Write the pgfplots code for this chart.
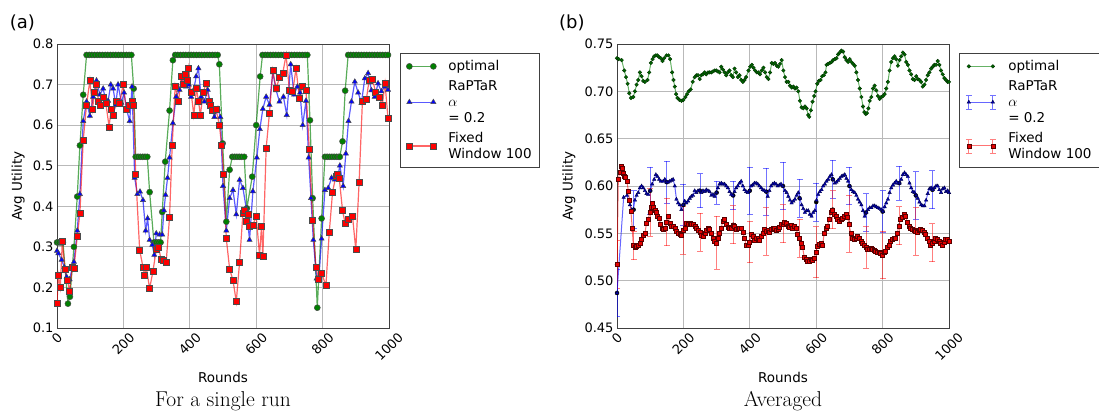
\documentclass[border=0pt]{standalone}
\usepackage{fontspec}
\setmainfont{DejaVu Sans}
\newfontfamily\lmr{Latin Modern Roman}
\usepackage{graphicx}
\usepackage{pgfplots}
\pgfplotsset{compat=1.18}
\definecolor{mgreen}{rgb}{0,0.5,0}
\definecolor{edgec}{gray}{0.3}

\pgfplotstableread{
x y e
0 0.487 0.025
50 0.575 0.020
100 0.595 0.025
150 0.604 0.022
200 0.580 0.022
250 0.595 0.018
300 0.593 0.012
350 0.590 0.015
400 0.595 0.025
450 0.594 0.025
500 0.600 0.025
550 0.587 0.020
600 0.583 0.020
650 0.607 0.020
700 0.600 0.020
750 0.572 0.020
800 0.573 0.022
850 0.603 0.018
900 0.590 0.025
950 0.596 0.020
}\blueerr

\pgfplotstableread{
x y e
0 0.517 0.025
50 0.537 0.015
100 0.572 0.025
150 0.562 0.025
200 0.553 0.025
250 0.551 0.020
300 0.540 0.028
350 0.559 0.020
400 0.541 0.022
450 0.552 0.025
500 0.560 0.020
550 0.545 0.020
600 0.530 0.027
650 0.575 0.020
700 0.560 0.030
750 0.535 0.022
800 0.527 0.025
850 0.558 0.020
900 0.552 0.025
950 0.540 0.020
}\rederr

\pgfplotsset{
  mystyle/.style={
    scale only axis, width=332pt, height=284pt, anchor=south west,
    xmin=0, xmax=1000, enlargelimits=false,
    xtick={0,200,400,600,800,1000},
    xticklabels={\rotatebox{45}{0},\rotatebox{45}{200},\rotatebox{45}{400},\rotatebox{45}{600},\rotatebox{45}{800},\rotatebox{45}{1000}},
    xticklabel style={anchor=north, font=\fontsize{13}{15}\selectfont},
    yticklabel style={font=\fontsize{13}{15}\selectfont},
    grid=major, grid style={gray!55, line width=0.8pt},
    major tick length=0pt,
    axis line style={gray!50!black, line width=1pt},
    xlabel={Rounds}, ylabel={Avg Utility},
    every axis x label/.style={at={(axis description cs:0.5,-0.173)}, anchor=center, font=\fontsize{13.5}{16}\selectfont},
    legend cell align=left,
    legend style={anchor=north west, draw=gray!50!black, line width=0.8pt,
      font=\fontsize{13.5}{16.2}\selectfont, inner xsep=6pt, inner ysep=5pt,
      row sep=4pt, nodes={align=left},
      /tikz/every odd column/.append style={column sep=10pt}},
    legend image code/.code={\draw[##1] plot coordinates {(0pt,0pt) (24pt,0pt)};},
    /pgf/number format/assume math mode=true,
  },
  errlegblue/.style={legend image code/.code={
    \draw[blue, draw opacity=0.55, line width=0.9pt] (0pt,-7pt)--(0pt,7pt) (-3pt,7pt)--(3pt,7pt) (-3pt,-7pt)--(3pt,-7pt) (24pt,-7pt)--(24pt,7pt) (21pt,7pt)--(27pt,7pt) (21pt,-7pt)--(27pt,-7pt);
    \draw[##1] plot coordinates {(0pt,0pt) (24pt,0pt)};}},
  errlegred/.style={legend image code/.code={
    \draw[red, draw opacity=0.5, line width=0.9pt] (0pt,-7pt)--(0pt,7pt) (-3pt,7pt)--(3pt,7pt) (-3pt,-7pt)--(3pt,-7pt) (24pt,-7pt)--(24pt,7pt) (21pt,7pt)--(27pt,7pt) (21pt,-7pt)--(27pt,-7pt);
    \draw[##1] plot coordinates {(0pt,0pt) (24pt,0pt)};}},
}

\begin{document}
\begin{tikzpicture}
\useasboundingbox (0,0) rectangle (1099pt,413pt);
% ---------------- left panel ----------------
\begin{axis}[mystyle, at={(57pt,85pt)},
  ymin=0.1, ymax=0.8, ytick={0.1,0.2,...,0.8},
  yticklabel style={/pgf/number format/.cd, fixed, fixed zerofill, precision=1},
  every axis y label/.style={at={(axis description cs:-0.117,0.5)}, rotate=90, anchor=center, font=\fontsize{13.5}{16}\selectfont},
  legend style={at={(axis description cs:1.033,0.968)}},
  after end axis/.code={
    \node[font=\fontsize{18}{20}\selectfont] at (axis description cs:-0.104,1.074) {(a)};
    \node[font=\lmr\fontsize{21.5}{24}\selectfont, anchor=base] at (axis description cs:0.5,-0.277) {For a single run};
  }]
\addplot[mgreen, draw opacity=0.65, line width=1.2pt, mark=*, mark size=3pt,
  mark options={fill=mgreen, draw=edgec, line width=0.5pt, draw opacity=1}]
coordinates {(0,0.311)(6,0.311)(12,0.311)(18,0.311)(33,0.16)(39,0.177)(51,0.30)(61,0.424)(69,0.55)(79,0.675)(89,0.773)(97,0.773)(105,0.773)(113,0.773)(121,0.773)(129,0.773)(137,0.773)(145,0.773)(153,0.773)(161,0.773)(169,0.773)(177,0.773)(185,0.773)(193,0.773)(201,0.773)(209,0.773)(217,0.773)(224,0.773)(231,0.69)(237,0.522)(244,0.522)(251,0.522)(258,0.522)(265,0.522)(272,0.522)(279,0.435)(292,0.311)(299,0.311)(306,0.311)(312,0.311)(317,0.386)(326,0.51)(339,0.636)(349,0.76)(356,0.773)(364,0.773)(372,0.773)(380,0.773)(388,0.773)(396,0.773)(404,0.773)(412,0.773)(420,0.773)(428,0.773)(436,0.773)(444,0.773)(452,0.773)(460,0.773)(468,0.773)(476,0.773)(484,0.773)(489,0.75)(499,0.555)(510,0.362)(520,0.49)(528,0.522)(535,0.522)(542,0.522)(549,0.522)(556,0.522)(564,0.522)(572,0.395)(588,0.473)(600,0.60)(612,0.72)(619,0.773)(627,0.773)(635,0.773)(643,0.773)(651,0.773)(659,0.773)(667,0.773)(675,0.773)(683,0.773)(691,0.773)(699,0.773)(707,0.773)(715,0.773)(723,0.773)(731,0.773)(739,0.773)(747,0.773)(754,0.773)(762,0.612)(770,0.42)(784,0.15)(797,0.37)(807,0.522)(814,0.522)(821,0.522)(828,0.522)(835,0.522)(842,0.522)(849,0.522)(852,0.522)(860,0.56)(868,0.685)(877,0.773)(885,0.773)(893,0.773)(901,0.773)(909,0.773)(917,0.773)(925,0.773)(933,0.773)(941,0.773)(949,0.773)(957,0.773)(965,0.773)(973,0.773)(981,0.773)(989,0.773)(997,0.773)};
\addlegendentry{optimal}
\addplot[blue, draw opacity=0.65, line width=1.2pt, mark=triangle*, mark size=3pt,
  mark options={fill=blue, draw=edgec, line width=0.5pt, draw opacity=1}]
coordinates {(0,0.29)(4,0.284)(14,0.268)(22,0.25)(29,0.226)(38,0.22)(45,0.245)(51,0.263)(61,0.34)(69,0.43)(79,0.61)(89,0.658)(99,0.623)(109,0.67)(119,0.71)(129,0.675)(139,0.69)(147,0.66)(154,0.66)(162,0.70)(169,0.69)(177,0.65)(184,0.70)(194,0.655)(202,0.68)(209,0.64)(219,0.61)(226,0.695)(234,0.47)(242,0.43)(250,0.436)(259,0.415)(267,0.34)(273,0.37)(279,0.317)(287,0.305)(293,0.28)(299,0.333)(309,0.33)(317,0.33)(322,0.39)(327,0.428)(333,0.47)(339,0.52)(349,0.605)(359,0.67)(369,0.687)(379,0.72)(389,0.695)(397,0.70)(404,0.67)(412,0.687)(419,0.72)(426,0.74)(434,0.67)(444,0.658)(454,0.687)(464,0.646)(474,0.62)(485,0.64)(492,0.62)(500,0.45)(510,0.34)(520,0.42)(530,0.44)(540,0.38)(550,0.465)(560,0.445)(570,0.395)(580,0.317)(590,0.437)(602,0.52)(611,0.59)(620,0.64)(630,0.67)(640,0.65)(650,0.73)(660,0.686)(670,0.658)(682,0.67)(692,0.625)(704,0.75)(714,0.675)(724,0.695)(732,0.68)(740,0.6)(750,0.66)(758,0.52)(765,0.42)(772,0.317)(782,0.222)(789,0.226)(797,0.32)(807,0.44)(817,0.445)(827,0.47)(837,0.466)(845,0.47)(852,0.5)(862,0.45)(870,0.53)(878,0.61)(887,0.658)(897,0.707)(907,0.68)(917,0.655)(927,0.715)(937,0.728)(947,0.686)(957,0.67)(967,0.703)(977,0.683)(987,0.695)(997,0.687)};
\addlegendentry{RaPTaR\\$\alpha$\\= 0.2}
\addplot[red, draw opacity=0.6, line width=1.2pt, mark=square*, mark size=3pt,
  mark options={fill=red, draw=edgec, line width=0.5pt, draw opacity=1}]
coordinates {(0,0.16)(4,0.23)(10,0.20)(16,0.313)(24,0.245)(32,0.218)(38,0.19)(46,0.25)(51,0.247)(61,0.325)(69,0.383)(79,0.563)(89,0.65)(99,0.71)(107,0.64)(113,0.68)(119,0.70)(125,0.66)(131,0.65)(139,0.67)(147,0.654)(157,0.596)(163,0.64)(169,0.625)(179,0.658)(189,0.654)(199,0.70)(209,0.64)(219,0.65)(226,0.66)(231,0.65)(237,0.48)(249,0.292)(259,0.25)(264,0.23)(269,0.25)(279,0.197)(289,0.24)(299,0.293)(306,0.3)(313,0.27)(319,0.268)(329,0.263)(339,0.374)(347,0.55)(356,0.697)(366,0.658)(374,0.72)(380,0.70)(386,0.725)(392,0.71)(396,0.74)(404,0.68)(412,0.625)(420,0.69)(426,0.66)(432,0.625)(440,0.68)(449,0.703)(458,0.66)(463,0.65)(469,0.637)(479,0.64)(489,0.60)(496,0.55)(502,0.48)(510,0.32)(520,0.245)(530,0.218)(540,0.165)(550,0.263)(560,0.383)(565,0.39)(570,0.362)(575,0.38)(580,0.35)(590,0.354)(600,0.376)(610,0.28)(616,0.35)(620,0.276)(630,0.543)(640,0.63)(650,0.735)(660,0.69)(670,0.717)(680,0.728)(690,0.773)(700,0.687)(710,0.683)(720,0.74)(730,0.666)(740,0.695)(750,0.687)(760,0.54)(770,0.365)(780,0.25)(788,0.22)(797,0.235)(810,0.205)(820,0.335)(830,0.435)(840,0.475)(845,0.48)(850,0.47)(860,0.39)(868,0.357)(878,0.367)(890,0.376)(900,0.293)(910,0.46)(920,0.66)(932,0.665)(940,0.71)(950,0.714)(960,0.68)(970,0.67)(980,0.65)(988,0.703)(997,0.617)};
\addlegendentry{Fixed\\Window 100}
\end{axis}

% ---------------- right panel ----------------
\begin{axis}[mystyle, at={(617pt,85pt)},
  ymin=0.45, ymax=0.75, ytick={0.45,0.50,...,0.75},
  yticklabel style={/pgf/number format/.cd, fixed, fixed zerofill, precision=2},
  every axis y label/.style={at={(axis description cs:-0.145,0.5)}, rotate=90, anchor=center, font=\fontsize{13.5}{16}\selectfont},
  legend style={at={(axis description cs:1.030,0.968)}},
  after end axis/.code={
    \node[font=\fontsize{18}{20}\selectfont] at (axis description cs:-0.136,1.074) {(b)};
    \node[font=\lmr\fontsize{21.5}{24}\selectfont, anchor=base] at (axis description cs:0.5,-0.277) {Averaged};
  }]
\addplot[only marks, mark=none, forget plot,
  error bars/.cd, y dir=both, y explicit,
  error bar style={blue, draw opacity=0.55, line width=0.9pt},
  error mark options={rotate=90, blue, draw opacity=0.55, mark size=3pt, line width=0.9pt}]
  table[x=x, y=y, y error=e] {\blueerr};
\addplot[only marks, mark=none, forget plot,
  error bars/.cd, y dir=both, y explicit,
  error bar style={red, draw opacity=0.5, line width=0.9pt},
  error mark options={rotate=90, red, draw opacity=0.5, mark size=3pt, line width=0.9pt}]
  table[x=x, y=y, y error=e] {\rederr};
\addplot[mgreen, draw opacity=0.6, line width=1pt, mark=*, mark size=1.8pt,
  mark options={fill=mgreen!80!black, draw=mgreen!40!black, line width=0.4pt, draw opacity=1}]
coordinates {(0,0.735)(5,0.734)(14,0.733)(22,0.722)(27,0.715)(32,0.708)(37,0.698)(42,0.693)(49,0.694)(54,0.70)(59,0.707)(64,0.712)(69,0.72)(74,0.716)(79,0.711)(84,0.71)(92,0.712)(97,0.72)(102,0.73)(107,0.734)(112,0.737)(117,0.738)(122,0.738)(127,0.736)(132,0.735)(137,0.732)(142,0.735)(149,0.738)(155,0.738)(160,0.734)(166,0.72)(170,0.712)(174,0.705)(178,0.697)(182,0.693)(188,0.691)(194,0.69)(200,0.691)(206,0.694)(211,0.697)(216,0.70)(222,0.702)(228,0.71)(234,0.715)(239,0.717)(244,0.717)(249,0.713)(254,0.717)(259,0.718)(264,0.72)(269,0.718)(274,0.72)(279,0.72)(284,0.72)(289,0.721)(294,0.722)(299,0.722)(304,0.721)(309,0.72)(314,0.726)(319,0.723)(324,0.72)(329,0.717)(334,0.72)(339,0.722)(344,0.717)(349,0.715)(354,0.724)(359,0.72)(364,0.715)(369,0.717)(374,0.712)(379,0.71)(384,0.712)(389,0.715)(396,0.722)(401,0.726)(406,0.728)(411,0.725)(416,0.722)(421,0.72)(426,0.72)(431,0.718)(436,0.722)(441,0.725)(446,0.72)(451,0.715)(456,0.713)(461,0.72)(466,0.73)(471,0.729)(476,0.73)(481,0.727)(486,0.726)(491,0.729)(496,0.733)(501,0.722)(506,0.715)(511,0.71)(516,0.71)(521,0.706)(526,0.704)(531,0.705)(536,0.703)(541,0.704)(546,0.70)(551,0.69)(556,0.683)(561,0.682)(566,0.684)(571,0.682)(576,0.675)(579,0.673)(584,0.68)(589,0.689)(594,0.695)(598,0.70)(603,0.708)(608,0.711)(613,0.712)(618,0.716)(623,0.717)(628,0.72)(631,0.728)(636,0.729)(641,0.73)(646,0.731)(651,0.733)(656,0.734)(661,0.735)(666,0.739)(671,0.741)(676,0.743)(681,0.742)(686,0.736)(691,0.733)(696,0.731)(701,0.734)(706,0.731)(711,0.729)(716,0.727)(721,0.72)(726,0.712)(731,0.703)(736,0.694)(741,0.684)(745,0.678)(749,0.676)(753,0.677)(757,0.682)(761,0.69)(766,0.694)(771,0.703)(776,0.706)(781,0.701)(786,0.695)(791,0.692)(796,0.694)(801,0.695)(806,0.697)(811,0.703)(816,0.71)(821,0.722)(826,0.731)(831,0.735)(836,0.737)(841,0.734)(846,0.727)(851,0.733)(856,0.737)(861,0.741)(866,0.739)(871,0.731)(876,0.728)(881,0.722)(886,0.718)(891,0.713)(896,0.712)(901,0.716)(906,0.713)(911,0.712)(916,0.71)(921,0.705)(926,0.707)(931,0.712)(936,0.717)(941,0.72)(946,0.724)(951,0.726)(956,0.728)(961,0.728)(966,0.732)(971,0.728)(976,0.722)(981,0.718)(986,0.714)(991,0.712)(996,0.71)(1000,0.71)};
\addlegendentry{optimal}
\addplot[blue, draw opacity=0.6, line width=1pt, mark=triangle*, mark size=2pt,
  mark options={fill=blue!70!black, draw=blue!30!black, line width=0.4pt, draw opacity=1},
  errlegblue]
coordinates {(0,0.487)(20,0.588)(30,0.59)(39,0.58)(44,0.575)(49,0.575)(54,0.585)(59,0.59)(64,0.593)(69,0.598)(74,0.60)(79,0.598)(84,0.595)(89,0.592)(94,0.591)(100,0.595)(106,0.602)(112,0.607)(117,0.612)(122,0.61)(127,0.607)(132,0.605)(139,0.605)(144,0.607)(149,0.604)(154,0.604)(159,0.605)(164,0.606)(169,0.607)(174,0.60)(179,0.586)(184,0.582)(189,0.58)(194,0.575)(199,0.58)(204,0.584)(209,0.582)(214,0.584)(219,0.587)(224,0.589)(229,0.59)(234,0.595)(239,0.593)(244,0.595)(249,0.595)(254,0.593)(259,0.595)(264,0.594)(269,0.596)(274,0.595)(279,0.594)(284,0.59)(289,0.591)(294,0.589)(299,0.593)(304,0.598)(309,0.602)(314,0.603)(319,0.602)(324,0.602)(329,0.60)(334,0.598)(339,0.594)(344,0.591)(349,0.59)(354,0.594)(359,0.598)(364,0.60)(369,0.603)(374,0.605)(379,0.60)(384,0.596)(389,0.594)(394,0.593)(399,0.595)(404,0.60)(409,0.601)(414,0.603)(419,0.603)(424,0.602)(429,0.60)(434,0.598)(439,0.596)(444,0.595)(449,0.594)(454,0.589)(459,0.595)(464,0.60)(469,0.602)(474,0.603)(479,0.602)(484,0.60)(489,0.601)(494,0.602)(499,0.60)(506,0.595)(511,0.593)(516,0.589)(521,0.585)(526,0.582)(531,0.584)(536,0.586)(541,0.59)(546,0.593)(551,0.587)(556,0.58)(561,0.576)(566,0.572)(571,0.574)(576,0.574)(581,0.57)(586,0.568)(591,0.572)(596,0.574)(601,0.585)(606,0.591)(611,0.594)(616,0.596)(621,0.60)(626,0.602)(631,0.605)(636,0.607)(641,0.61)(646,0.612)(651,0.607)(656,0.603)(661,0.604)(666,0.606)(671,0.608)(676,0.61)(681,0.611)(686,0.612)(691,0.608)(696,0.605)(701,0.60)(706,0.596)(711,0.594)(716,0.593)(721,0.59)(726,0.586)(731,0.583)(736,0.58)(741,0.574)(746,0.568)(751,0.572)(756,0.575)(761,0.577)(766,0.577)(771,0.579)(776,0.579)(781,0.578)(786,0.577)(791,0.576)(796,0.575)(801,0.573)(806,0.578)(811,0.582)(816,0.586)(821,0.593)(826,0.598)(831,0.601)(836,0.603)(841,0.605)(846,0.603)(851,0.603)(856,0.607)(861,0.612)(866,0.614)(871,0.612)(876,0.61)(881,0.603)(886,0.598)(891,0.594)(896,0.593)(901,0.59)(906,0.587)(911,0.583)(916,0.58)(921,0.579)(926,0.579)(931,0.585)(936,0.592)(941,0.597)(946,0.598)(951,0.596)(956,0.598)(961,0.60)(966,0.60)(971,0.596)(976,0.593)(981,0.597)(986,0.598)(991,0.594)(996,0.595)(1000,0.593)};
\addlegendentry{RaPTaR\\$\alpha$\\= 0.2}
\addplot[red, draw opacity=0.55, line width=1pt, mark=square*, mark size=2pt,
  mark options={fill=red!90!black, draw=red!35!black, line width=0.3pt, draw opacity=1},
  errlegred]
coordinates {(0,0.517)(4,0.607)(8,0.615)(12,0.621)(16,0.619)(19,0.614)(23,0.61)(26,0.609)(30,0.605)(34,0.595)(38,0.585)(42,0.573)(46,0.555)(49,0.537)(54,0.535)(59,0.536)(64,0.538)(69,0.54)(74,0.544)(79,0.548)(84,0.55)(89,0.561)(94,0.565)(99,0.572)(103,0.578)(106,0.582)(110,0.578)(114,0.574)(118,0.572)(122,0.568)(127,0.566)(131,0.56)(135,0.556)(139,0.554)(144,0.556)(149,0.562)(154,0.568)(159,0.561)(164,0.558)(169,0.558)(174,0.555)(179,0.552)(184,0.55)(189,0.549)(194,0.548)(199,0.553)(204,0.556)(209,0.561)(214,0.56)(219,0.561)(224,0.56)(229,0.56)(234,0.558)(239,0.555)(244,0.553)(249,0.551)(254,0.548)(259,0.547)(264,0.55)(269,0.553)(274,0.555)(279,0.554)(284,0.55)(289,0.545)(294,0.542)(299,0.54)(304,0.545)(309,0.55)(314,0.556)(319,0.563)(324,0.565)(329,0.56)(334,0.557)(339,0.556)(344,0.555)(349,0.559)(354,0.558)(359,0.554)(364,0.556)(369,0.555)(374,0.556)(379,0.551)(384,0.545)(389,0.538)(394,0.537)(399,0.541)(404,0.549)(409,0.547)(414,0.543)(419,0.545)(424,0.545)(429,0.543)(434,0.547)(439,0.55)(444,0.554)(449,0.552)(454,0.553)(459,0.551)(464,0.554)(469,0.556)(474,0.555)(479,0.553)(484,0.554)(489,0.557)(494,0.56)(499,0.56)(504,0.562)(509,0.561)(514,0.558)(519,0.557)(524,0.559)(529,0.556)(534,0.558)(539,0.556)(544,0.549)(549,0.545)(554,0.54)(559,0.535)(564,0.525)(569,0.523)(574,0.521)(579,0.521)(584,0.523)(589,0.522)(594,0.524)(599,0.53)(604,0.536)(609,0.539)(614,0.54)(619,0.537)(624,0.55)(629,0.556)(634,0.558)(639,0.565)(644,0.572)(649,0.575)(654,0.57)(659,0.568)(664,0.565)(669,0.563)(674,0.565)(679,0.566)(684,0.568)(689,0.57)(694,0.567)(699,0.56)(704,0.55)(709,0.545)(714,0.544)(719,0.545)(724,0.547)(729,0.545)(734,0.542)(739,0.54)(744,0.537)(749,0.535)(754,0.533)(759,0.533)(764,0.534)(769,0.533)(774,0.532)(779,0.531)(784,0.53)(789,0.53)(794,0.529)(799,0.527)(804,0.53)(809,0.531)(814,0.535)(819,0.538)(824,0.542)(829,0.544)(834,0.545)(839,0.545)(844,0.55)(849,0.558)(854,0.565)(859,0.567)(864,0.57)(869,0.568)(874,0.562)(879,0.558)(884,0.555)(889,0.554)(894,0.553)(899,0.552)(904,0.551)(909,0.553)(914,0.554)(919,0.553)(924,0.551)(929,0.549)(934,0.545)(939,0.542)(944,0.538)(949,0.54)(954,0.542)(959,0.545)(964,0.544)(969,0.542)(974,0.54)(979,0.538)(984,0.541)(989,0.544)(994,0.544)(999,0.542)};
\addlegendentry{Fixed\\Window 100}
\end{axis}
\end{tikzpicture}
\end{document}
